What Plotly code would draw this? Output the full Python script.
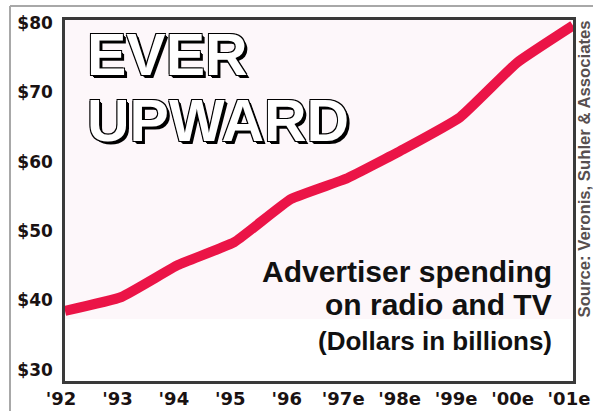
import plotly.graph_objects as go

# ---- data ----
years = ["'92", "'93", "'94", "'95", "'96", "'97e", "'98e", "'99e", "'00e", "'01e"]
spending = [38.5, 40.5, 45.1, 48.4, 54.6, 57.6, 61.8, 66.4, 74.2, 79.6]
y_ticks = [30, 40, 50, 60, 70, 80]
y_tick_labels = ["$30", "$40", "$50", "$60", "$70", "$80"]

title_lines = ["EVER", "UPWARD"]
subtitle_lines = ["Advertiser spending", "on radio and TV"]
units = "(Dollars in billions)"
source = "Source: Veronis, Suhler & Associates"

W, H = 593, 411
fig = go.Figure()

fig.add_trace(go.Scatter(
    x=years, y=spending, mode="lines",
    line=dict(color="#EB1447", width=10, shape="spline", smoothing=0.35),
    hoverinfo="skip", showlegend=False,
))

# faint tinted background band (printed texture)
fig.add_shape(type="rect", xref="x domain", yref="y domain",
              x0=0, x1=1, y0=0.172, y1=1, fillcolor="#fdf7fa",
              line=dict(width=0), layer="below")

# page frame lines
fig.add_shape(type="line", xref="paper", yref="paper",
              x0=(10 - 65) / 508, x1=(593 - 65) / 508,
              y0=(381 - 6) / 361, y1=(381 - 6) / 361,
              line=dict(color="#a8a8a8", width=2))
fig.add_shape(type="line", xref="paper", yref="paper",
              x0=(10 - 65) / 508, x1=(10 - 65) / 508,
              y0=(381 - 6) / 361, y1=(381 - 411) / 361,
              line=dict(color="#a8a8a8", width=2))

shadow = ("3px 3px 0px #000, 2px 2px 0px #000, -1px -1px 0px #000, "
          "1px -1px 0px #000, -1px 1px 0px #000, 1px 1px 0px #000")
for txt, yc in zip(title_lines, [0.903, 0.720]):
    fig.add_annotation(xref="paper", yref="paper", x=0.040, y=yc,
                       xanchor="left", yanchor="middle", text=txt, showarrow=False,
                       font=dict(family="Liberation Sans", size=59, color="white",
                                 weight="bold", shadow=shadow))

for txt, yc in zip(subtitle_lines, [0.302, 0.2125]):
    fig.add_annotation(xref="paper", yref="paper", x=0.963, y=yc,
                       xanchor="right", yanchor="middle", text=txt, showarrow=False,
                       font=dict(family="Liberation Sans", size=30, color="#111111",
                                 weight="bold"))
fig.add_annotation(xref="paper", yref="paper", x=0.963, y=0.110,
                   xanchor="right", yanchor="middle", text=units, showarrow=False,
                   font=dict(family="Liberation Sans", size=26, color="#111111",
                             weight="bold"))

fig.add_annotation(xref="paper", yref="paper", x=(584 - 65) / 508, y=0.586,
                   xanchor="center", yanchor="middle", text=source, showarrow=False,
                   textangle=-90,
                   font=dict(family="Liberation Sans", size=16.7, color="#574f4f",
                             weight="bold"))

fig.update_layout(
    width=W, height=H,
    margin=dict(l=65, r=20, t=20, b=30),
    paper_bgcolor="white", plot_bgcolor="white",
    xaxis=dict(type="category", range=[0, len(years) - 1], automargin=False,
               tickmode="array", tickvals=years, ticktext=years, tickangle=0,
               ticklabelshift=-4,
               showgrid=False, zeroline=False,
               showline=True, mirror=True, linecolor="#3a3a3a", linewidth=2.5,
               ticks="",
               tickfont=dict(family="DejaVu Sans", size=18, color="#1a1212",
                             weight="bold")),
    yaxis=dict(range=[28.4, 80.4], tickmode="array", automargin=False,
               tickvals=y_ticks, ticktext=y_tick_labels,
               showgrid=False, zeroline=False,
               showline=True, mirror=True, linecolor="#3a3a3a", linewidth=2.5,
               ticks="outside", ticklen=6, tickcolor="rgba(0,0,0,0)",
               tickfont=dict(family="DejaVu Sans", size=17, color="#1a1212",
                             weight="bold")),
)

fig.write_html("out.html", config={"displayModeBar": False},
               post_script="document.body.style.margin='0';")
